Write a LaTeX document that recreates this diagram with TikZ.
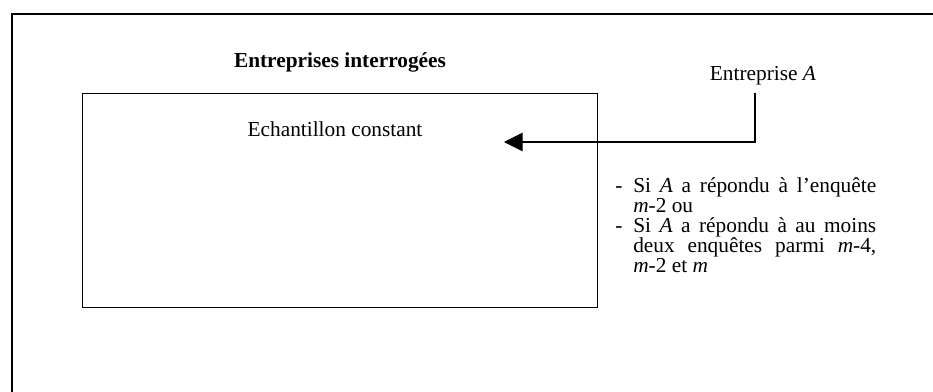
\documentclass[tikz,border=0pt]{standalone}
\usepackage{fontspec}
\setmainfont{Liberation Serif}
\usetikzlibrary{arrows.meta}
\tikzset{
  frame/.style={draw=black, line width=1.1pt},
  boxline/.style={draw=black, line width=1pt},
  conn/.style={draw=black, line width=0.8pt, -{Triangle[length=14pt,width=14pt]}},
  txt/.style={inner sep=0pt, font=\fontsize{16pt}{13.9pt}\selectfont}
}
\begin{document}
\begin{tikzpicture}[x=0.75pt,y=-0.75pt]
\useasboundingbox (0,0) rectangle (933,392);
% outer frame (cropped)
\draw[frame] (12,392) -- (12,14) -- (933,14);
% inner box
\node[boxline, minimum width=386.25pt, minimum height=160.5pt, anchor=north west, inner sep=0pt] (box) at (82,93) {};
\node[txt, font=\fontsize{16pt}{13.9pt}\selectfont\bfseries] (title) at (340,62) {Entreprises interrogées};
\node[txt] (ech) at (335,129) {Echantillon constant};
\node[txt] (entA) at (763,76) {Entreprise \textit{A}};
\coordinate (start) at (755,93);
\coordinate (tip) at (504,142);
\draw[conn] (start) |- (tip);
\node[txt, anchor=north west, text width=195.75pt, align=justify] (cond) at (615,177) {%
\hyphenpenalty=10000\exhyphenpenalty=10000
\hangindent=13.5pt\hangafter=1\noindent\makebox[13.5pt][l]{-}Si \textit{A} a répondu à l’enquête \mbox{\textit{m}-2} ou\par
\vspace{1.2pt}%
\hangindent=13.5pt\hangafter=1\noindent\makebox[13.5pt][l]{-}Si \textit{A} a répondu à au moins deux enquêtes parmi \mbox{\textit{m}-4,} \mbox{\textit{m}-2} et \textit{m}\par};
\end{tikzpicture}
\end{document}
